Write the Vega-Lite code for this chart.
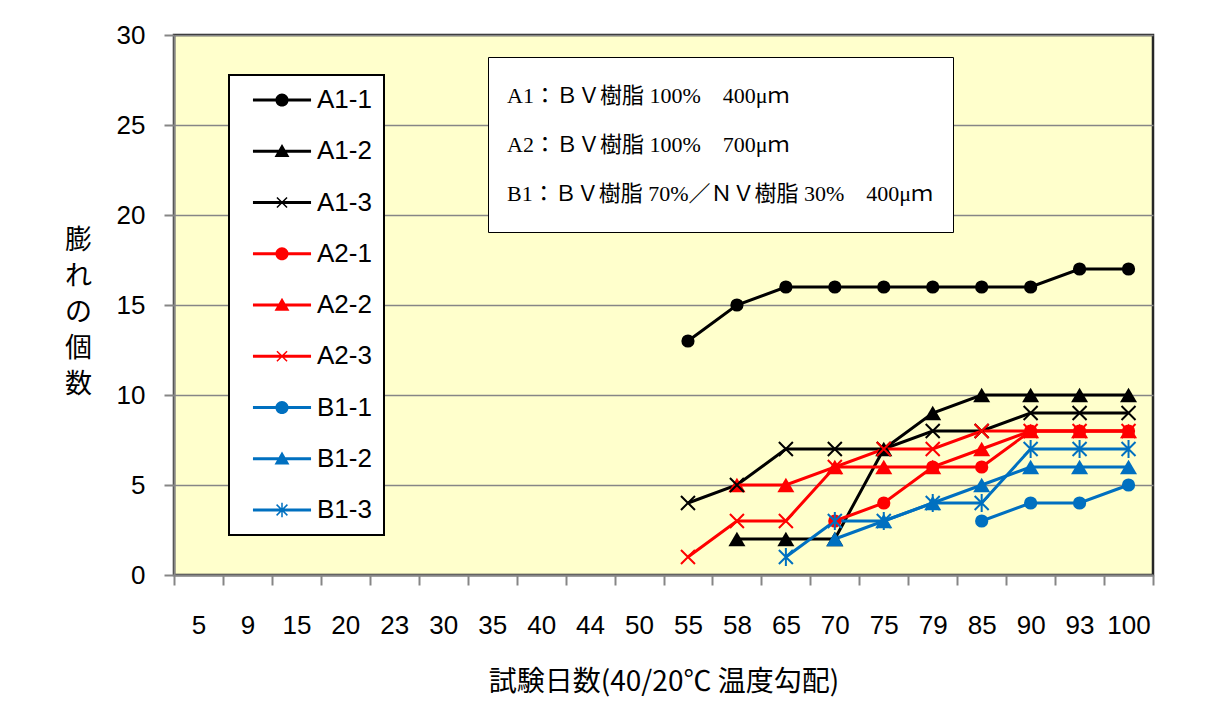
{
  "$schema": "https://vega.github.io/schema/vega-lite/v6.json",
  "width": 979,
  "height": 540,
  "autosize": {"type": "none"},
  "padding": {"left": 174, "top": 35, "right": 59, "bottom": 145},
  "background": "#ffffff",
  "config": {
    "view": {"fill": "#FFFFCC", "stroke": "#262626", "strokeWidth": 2.5}
  },
  "datasets": {
    "main": [
      {"d": "55", "s": "A1-1", "v": 13}, {"d": "58", "s": "A1-1", "v": 15}, {"d": "65", "s": "A1-1", "v": 16}, {"d": "70", "s": "A1-1", "v": 16}, {"d": "75", "s": "A1-1", "v": 16}, {"d": "79", "s": "A1-1", "v": 16}, {"d": "85", "s": "A1-1", "v": 16}, {"d": "90", "s": "A1-1", "v": 16}, {"d": "93", "s": "A1-1", "v": 17}, {"d": "100", "s": "A1-1", "v": 17},
      {"d": "58", "s": "A1-2", "v": 2}, {"d": "65", "s": "A1-2", "v": 2}, {"d": "70", "s": "A1-2", "v": 2}, {"d": "75", "s": "A1-2", "v": 7}, {"d": "79", "s": "A1-2", "v": 9}, {"d": "85", "s": "A1-2", "v": 10}, {"d": "90", "s": "A1-2", "v": 10}, {"d": "93", "s": "A1-2", "v": 10}, {"d": "100", "s": "A1-2", "v": 10},
      {"d": "55", "s": "A1-3", "v": 4}, {"d": "58", "s": "A1-3", "v": 5}, {"d": "65", "s": "A1-3", "v": 7}, {"d": "70", "s": "A1-3", "v": 7}, {"d": "75", "s": "A1-3", "v": 7}, {"d": "79", "s": "A1-3", "v": 8}, {"d": "85", "s": "A1-3", "v": 8}, {"d": "90", "s": "A1-3", "v": 9}, {"d": "93", "s": "A1-3", "v": 9}, {"d": "100", "s": "A1-3", "v": 9},
      {"d": "70", "s": "A2-1", "v": 3}, {"d": "75", "s": "A2-1", "v": 4}, {"d": "79", "s": "A2-1", "v": 6}, {"d": "85", "s": "A2-1", "v": 6}, {"d": "90", "s": "A2-1", "v": 8}, {"d": "93", "s": "A2-1", "v": 8}, {"d": "100", "s": "A2-1", "v": 8},
      {"d": "58", "s": "A2-2", "v": 5}, {"d": "65", "s": "A2-2", "v": 5}, {"d": "70", "s": "A2-2", "v": 6}, {"d": "75", "s": "A2-2", "v": 6}, {"d": "79", "s": "A2-2", "v": 6}, {"d": "85", "s": "A2-2", "v": 7}, {"d": "90", "s": "A2-2", "v": 8}, {"d": "93", "s": "A2-2", "v": 8}, {"d": "100", "s": "A2-2", "v": 8},
      {"d": "55", "s": "A2-3", "v": 1}, {"d": "58", "s": "A2-3", "v": 3}, {"d": "65", "s": "A2-3", "v": 3}, {"d": "70", "s": "A2-3", "v": 6}, {"d": "75", "s": "A2-3", "v": 7}, {"d": "79", "s": "A2-3", "v": 7}, {"d": "85", "s": "A2-3", "v": 8}, {"d": "90", "s": "A2-3", "v": 8}, {"d": "93", "s": "A2-3", "v": 8}, {"d": "100", "s": "A2-3", "v": 8},
      {"d": "85", "s": "B1-1", "v": 3}, {"d": "90", "s": "B1-1", "v": 4}, {"d": "93", "s": "B1-1", "v": 4}, {"d": "100", "s": "B1-1", "v": 5},
      {"d": "70", "s": "B1-2", "v": 2}, {"d": "75", "s": "B1-2", "v": 3}, {"d": "79", "s": "B1-2", "v": 4}, {"d": "85", "s": "B1-2", "v": 5}, {"d": "90", "s": "B1-2", "v": 6}, {"d": "93", "s": "B1-2", "v": 6}, {"d": "100", "s": "B1-2", "v": 6},
      {"d": "65", "s": "B1-3", "v": 1}, {"d": "70", "s": "B1-3", "v": 3}, {"d": "75", "s": "B1-3", "v": 3}, {"d": "79", "s": "B1-3", "v": 4}, {"d": "85", "s": "B1-3", "v": 4}, {"d": "90", "s": "B1-3", "v": 7}, {"d": "93", "s": "B1-3", "v": 7}, {"d": "100", "s": "B1-3", "v": 7}
    ]
  },
  "data": {"name": "main"},
  "encoding": {
    "x": {
      "field": "d", "type": "ordinal",
      "scale": {"domain": ["5","9","15","20","23","30","35","40","44","50","55","58","65","70","75","79","85","90","93","100"], "paddingInner": 0, "paddingOuter": 0},
      "title": "試験日数(40/20℃ 温度勾配)",
      "axis": {
        "labelAngle": 0, "tickBand": "extent", "tickSize": 10, "tickColor": "#868686", "tickWidth": 2,
        "domainColor": "#868686", "domainWidth": 2, "grid": false, "labelOverlap": false,
        "labelFont": "Liberation Sans", "labelFontSize": 26, "labelColor": "#000000", "labelPadding": 27,
        "titleFont": "Noto Sans CJK JP", "titleFontSize": 28, "titleFontWeight": "normal", "titleColor": "#000000", "titlePadding": 30
      }
    },
    "y": {
      "field": "v", "type": "quantitative",
      "scale": {"domain": [0, 30], "nice": false},
      "title": ["膨", "れ", "の", "個", "数"],
      "axis": {
        "values": [0, 5, 10, 15, 20, 25, 30], "tickSize": 10, "tickColor": "#868686", "tickWidth": 2,
        "domainColor": "#868686", "domainWidth": 2, "grid": true, "gridColor": "#868686", "gridWidth": 1.5,
        "labelFont": "Liberation Sans", "labelFontSize": 26, "labelColor": "#000000", "labelPadding": 19,
        "titleFont": "Noto Sans CJK JP", "titleFontSize": 27, "titleFontWeight": "normal", "titleColor": "#000000",
        "titleAngle": 0, "titleX": -96, "titleY": 205, "titleAlign": "center", "titleBaseline": "middle", "titleLineHeight": 36
      }
    }
  },
  "layer": [
    {
      "mark": {"type": "line", "strokeWidth": 3},
      "encoding": {
        "color": {"field": "s", "type": "nominal", "legend": null,
          "scale": {"domain": ["B1-3","B1-2","B1-1","A2-3","A2-2","A2-1","A1-3","A1-2","A1-1"], "range": ["#0070C0","#0070C0","#0070C0","#FF0000","#FF0000","#FF0000","#000000","#000000","#000000"]}}
      }
    },
    {
      "transform": [{"filter": {"field": "s", "oneOf": ["A1-1", "A2-1", "B1-1"]}}],
      "mark": {"type": "point", "shape": "circle", "filled": true, "opacity": 1, "size": 175},
      "encoding": {"color": {"field": "s", "type": "nominal", "legend": null}}
    },
    {
      "transform": [{"filter": {"field": "s", "oneOf": ["A1-2", "A2-2", "B1-2"]}}],
      "mark": {"type": "point", "shape": "triangle-up", "filled": true, "opacity": 1, "size": 290},
      "encoding": {"color": {"field": "s", "type": "nominal", "legend": null}}
    },
    {
      "transform": [{"filter": {"field": "s", "oneOf": ["A1-3", "A2-3"]}}],
      "mark": {"type": "point", "shape": "M-1,-1L1,1M1,-1L-1,1", "filled": false, "opacity": 1, "size": 196, "strokeWidth": 2},
      "encoding": {"color": {"field": "s", "type": "nominal", "legend": null}}
    },
    {
      "transform": [{"filter": {"field": "s", "oneOf": ["B1-3"]}}],
      "mark": {"type": "point", "shape": "M-1,-1L1,1M1,-1L-1,1M0,-1.3L0,1.3", "filled": false, "opacity": 1, "size": 196, "strokeWidth": 2},
      "encoding": {"color": {"field": "s", "type": "nominal", "legend": null}}
    },
    {
      "transform": [{"filter": "false"}],
      "mark": {"type": "point", "filled": true, "opacity": 1},
      "encoding": {
        "fill": {"field": "s", "type": "nominal",
          "scale": {"domain": ["A1-1","A1-2","A1-3","A2-1","A2-2","A2-3","B1-1","B1-2","B1-3"], "range": ["#000000","#000000","#000000","#FF0000","#FF0000","#FF0000","#0070C0","#0070C0","#0070C0"]},
          "legend": {
            "title": null, "orient": "none", "legendX": 55, "legendY": 40, "padding": 12,
            "strokeColor": "#000000", "fillColor": "#ffffff",
            "symbolSize": 576, "symbolOffset": 28, "labelOffset": 22, "rowPadding": 25.25,
            "symbolStrokeWidth": 0, "symbolOpacity": 1,
            "labelFont": "Liberation Sans", "labelFontSize": 26, "labelColor": "#000000", "labelLimit": 300,
            "encode": {"legend": {"update": {"strokeWidth": {"value": 2}}}}
          }},
        "shape": {"field": "s", "type": "nominal",
          "scale": {"domain": ["A1-1","A1-2","A1-3","A2-1","A2-2","A2-3","B1-1","B1-2","B1-3"],
            "range": [
              "M-2.42,-0.13H2.42V0.13H-2.42Z M-0.55,0A0.55,0.55,0,1,1,0.55,0A0.55,0.55,0,1,1,-0.55,0Z",
              "M-2.42,-0.13H2.42V0.13H-2.42Z M0,-0.6L0.62,0.48L-0.62,0.48Z",
              "M-2.42,-0.13H2.42V0.13H-2.42Z M-0.376,-0.464L0.464,0.376L0.376,0.464L-0.464,-0.376Z M0.464,-0.376L-0.376,0.464L-0.464,0.376L0.376,-0.464Z",
              "M-2.42,-0.13H2.42V0.13H-2.42Z M-0.55,0A0.55,0.55,0,1,1,0.55,0A0.55,0.55,0,1,1,-0.55,0Z",
              "M-2.42,-0.13H2.42V0.13H-2.42Z M0,-0.6L0.62,0.48L-0.62,0.48Z",
              "M-2.42,-0.13H2.42V0.13H-2.42Z M-0.376,-0.464L0.464,0.376L0.376,0.464L-0.464,-0.376Z M0.464,-0.376L-0.376,0.464L-0.464,0.376L0.376,-0.464Z",
              "M-2.42,-0.13H2.42V0.13H-2.42Z M-0.55,0A0.55,0.55,0,1,1,0.55,0A0.55,0.55,0,1,1,-0.55,0Z",
              "M-2.42,-0.13H2.42V0.13H-2.42Z M0,-0.6L0.62,0.48L-0.62,0.48Z",
              "M-2.42,-0.13H2.42V0.13H-2.42Z M-0.406,-0.494L0.494,0.406L0.406,0.494L-0.494,-0.406Z M0.494,-0.406L-0.406,0.494L-0.494,0.406L0.406,-0.494Z M-0.0625,-0.6H0.0625V0.6H-0.0625Z"
            ]},
          "legend": {
            "title": null, "orient": "none", "legendX": 55, "legendY": 40, "padding": 12,
            "strokeColor": "#000000", "fillColor": "#ffffff",
            "symbolSize": 576, "symbolOffset": 28, "labelOffset": 22, "rowPadding": 25.25,
            "symbolStrokeWidth": 0, "symbolOpacity": 1,
            "labelFont": "Liberation Sans", "labelFontSize": 26, "labelColor": "#000000", "labelLimit": 300,
            "encode": {"legend": {"update": {"strokeWidth": {"value": 2}}}}
          }}
      }
    },
    {
      "data": {"values": [
        {"note": "A1：ＢＶ樹脂 100%　400μｍ"},
        {"note": "A2：ＢＶ樹脂 100%　700μｍ"},
        {"note": "B1：ＢＶ樹脂 70%／ＮＶ樹脂 30%　400μｍ"}
      ]},
      "mark": {"type": "point", "opacity": 0},
      "encoding": {
        "x": {"value": 0},
        "y": {"value": 0},
        "strokeDash": {"field": "note", "type": "nominal",
          "scale": {"domain": ["A1：ＢＶ樹脂 100%　400μｍ", "A2：ＢＶ樹脂 100%　700μｍ", "B1：ＢＶ樹脂 70%／ＮＶ樹脂 30%　400μｍ"]},
          "legend": {
            "title": null, "orient": "none", "legendX": 314, "legendY": 22, "padding": 19,
            "strokeColor": "#000000", "fillColor": "#ffffff",
            "symbolSize": 1521, "symbolOpacity": 0, "symbolStrokeWidth": 0, "symbolStrokeColor": "transparent", "symbolFillColor": "transparent",
            "labelOffset": -39, "rowPadding": 10,
            "labelFont": "Liberation Serif, Noto Sans CJK JP", "labelFontSize": 22, "labelColor": "#000000", "labelLimit": 600,
            "encode": {"legend": {"update": {"strokeWidth": {"value": 2}}}}
          }}
      }
    }
  ]
}
